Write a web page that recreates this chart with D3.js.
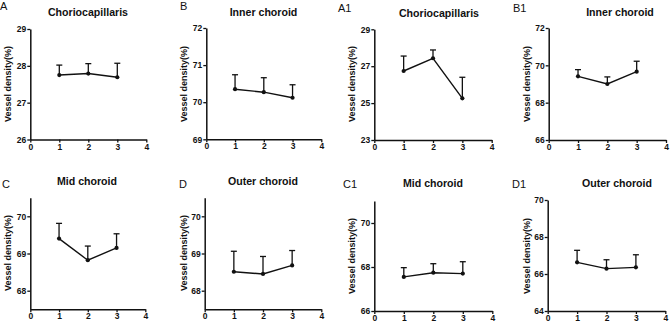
<!DOCTYPE html>
<html>
<head>
<meta charset="utf-8">
<script src="https://cdn.jsdelivr.net/npm/d3@7"></script>
<style>
  html, body { margin: 0; padding: 0; background: #fff; }
  svg { display: block; font-family: "Liberation Sans", Arial, sans-serif; }
</style>
</head>
<body>
<svg id="chart" width="671" height="322"></svg>
<script>
// ---- data ----
const panelLabels = ["A", "B", "A1", "B1", "C", "D", "C1", "D1"];
const panelTitles = ["Choriocapillaris", "Inner choroid", "Choriocapillaris", "Inner choroid",
                     "Mid choroid", "Outer choroid", "Mid choroid", "Outer choroid"];
const xValues = [1, 2, 3];
const xTicks = [0, 1, 2, 3, 4];
const yLabel = "Vessel density(%)";

const meansA  = [27.75, 27.79, 27.69];
const errsA   = [0.27, 0.27, 0.38];
const meansB  = [70.35, 70.27, 70.12];
const errsB   = [0.39, 0.39, 0.35];
const meansA1 = [26.74, 27.43, 25.26];
const errsA1  = [0.81, 0.45, 1.14];
const meansB1 = [69.41, 69.00, 69.66];
const errsB1  = [0.36, 0.38, 0.56];
const meansC  = [69.40, 68.82, 69.15];
const errsC   = [0.41, 0.38, 0.38];
const meansD  = [68.51, 68.45, 68.68];
const errsD   = [0.55, 0.47, 0.40];
const meansC1 = [67.55, 67.74, 67.70];
const errsC1  = [0.42, 0.41, 0.54];
const meansD1 = [66.63, 66.29, 66.36];
const errsD1  = [0.65, 0.48, 0.68];

const yDomains = [[26, 29], [69, 72], [23, 29], [66, 72], [67.5, 70.5], [67.5, 70.5], [66, 71], [64, 70]];
const yTicksA  = [26, 27, 28, 29];
const yTicksB  = [69, 70, 71, 72];
const yTicksA1 = [23, 25, 27, 29];
const yTicksB1 = [66, 68, 70, 72];
const yTicksC  = [68, 69, 70];
const yTicksD  = [68, 69, 70];
const yTicksC1 = [66, 68, 70];
const yTicksD1 = [64, 66, 68, 70];

const allMeans = [meansA, meansB, meansA1, meansB1, meansC, meansD, meansC1, meansD1];
const allErrs  = [errsA, errsB, errsA1, errsB1, errsC, errsD, errsC1, errsD1];
const allYTicks = [yTicksA, yTicksB, yTicksA1, yTicksB1, yTicksC, yTicksD, yTicksC1, yTicksD1];

// ---- layout (pixel geometry of each panel) ----
const layout = [
  { x0: 30.3,  x1: 146.3, yb: 139.5, yt: 29,    lab: [0, 10],     title: [88, 16],    ylab: [11, 84] },
  { x0: 206.3, x1: 321.3, yb: 139.3, yt: 28,    lab: [180, 10],   title: [263.5, 16], ylab: [187, 84] },
  { x0: 374.3, x1: 491.7, yb: 140,   yt: 29.3,  lab: [338, 12],   title: [439, 17],   ylab: [355, 84] },
  { x0: 548.7, x1: 666,   yb: 140,   yt: 28,    lab: [513, 12],   title: [620, 16],   ylab: [530, 84] },
  { x0: 30.3,  x1: 145.3, yb: 309.3, yt: 197.7, lab: [2, 188],    title: [87, 185],   ylab: [11, 253] },
  { x0: 204.7, x1: 321.3, yb: 309.3, yt: 197.7, lab: [179, 188],  title: [263, 185],  ylab: [187, 253] },
  { x0: 374.3, x1: 492.3, yb: 311,   yt: 201,   lab: [343, 188],  title: [433, 187],  ylab: [355, 256] },
  { x0: 547.7, x1: 665.3, yb: 311,   yt: 200,   lab: [512, 188],  title: [617, 187],  ylab: [530, 256] }
];

const svg = d3.select("#chart");

layout.forEach((L, i) => {
  const g = svg.append("g");
  const x = d3.scaleLinear().domain([0, 4]).range([L.x0, L.x1]);
  const y = d3.scaleLinear().domain(yDomains[i]).range([L.yb, L.yt]);

  // y axis
  const ya = g.append("g").attr("transform", `translate(${L.x0},0)`)
    .call(d3.axisLeft(y).tickValues(allYTicks[i]).tickSize(3).tickPadding(1).tickSizeOuter(0).tickFormat(d3.format("d")));
  // x axis
  const xa = g.append("g").attr("transform", `translate(0,${L.yb})`)
    .call(d3.axisBottom(x).tickValues(xTicks).tickSize(3).tickPadding(1).tickSizeOuter(0).tickFormat(d3.format("d")));

  [ya, xa].forEach(a => {
    a.select(".domain").attr("stroke", "#111").attr("stroke-width", 1.5);
    a.selectAll(".tick line").attr("stroke", "#111").attr("stroke-width", 1.3);
    a.selectAll("text").attr("font-size", 8.5).attr("font-weight", "bold").attr("fill", "#111")
      .attr("font-family", "'Liberation Sans', Arial, sans-serif");
  });

  const means = allMeans[i], errs = allErrs[i];
  const pts = xValues.map((v, k) => ({ x: v, m: means[k], e: errs[k] }));

  // error bars (upper only)
  g.selectAll(".eb").data(pts).enter().append("line")
    .attr("x1", d => x(d.x)).attr("x2", d => x(d.x))
    .attr("y1", d => y(d.m)).attr("y2", d => y(d.m + d.e))
    .attr("stroke", "#111").attr("stroke-width", 1.3);
  g.selectAll(".cap").data(pts).enter().append("line")
    .attr("x1", d => x(d.x) - 3).attr("x2", d => x(d.x) + 3)
    .attr("y1", d => y(d.m + d.e)).attr("y2", d => y(d.m + d.e))
    .attr("stroke", "#111").attr("stroke-width", 1.3);

  // line
  g.append("path").datum(pts)
    .attr("d", d3.line().x(d => x(d.x)).y(d => y(d.m)))
    .attr("fill", "none").attr("stroke", "#111").attr("stroke-width", 1.4);
  g.selectAll(".pt").data(pts).enter().append("circle")
    .attr("cx", d => x(d.x)).attr("cy", d => y(d.m)).attr("r", 2.1).attr("fill", "#111");

  // title
  g.append("text").attr("x", L.title[0]).attr("y", L.title[1])
    .attr("text-anchor", "middle").attr("font-size", 10.6).attr("font-weight", "bold")
    .attr("fill", "#111").text(panelTitles[i]);
  // panel label
  g.append("text").attr("x", L.lab[0]).attr("y", L.lab[1])
    .attr("font-size", 11).attr("fill", "#111").text(panelLabels[i]);
  // y label
  g.append("text").attr("transform", `translate(${L.ylab[0]},${L.ylab[1]}) rotate(-90)`)
    .attr("text-anchor", "middle").attr("font-size", 9).attr("font-weight", "bold")
    .attr("fill", "#111").text(yLabel);
});
</script>
</body>
</html>
